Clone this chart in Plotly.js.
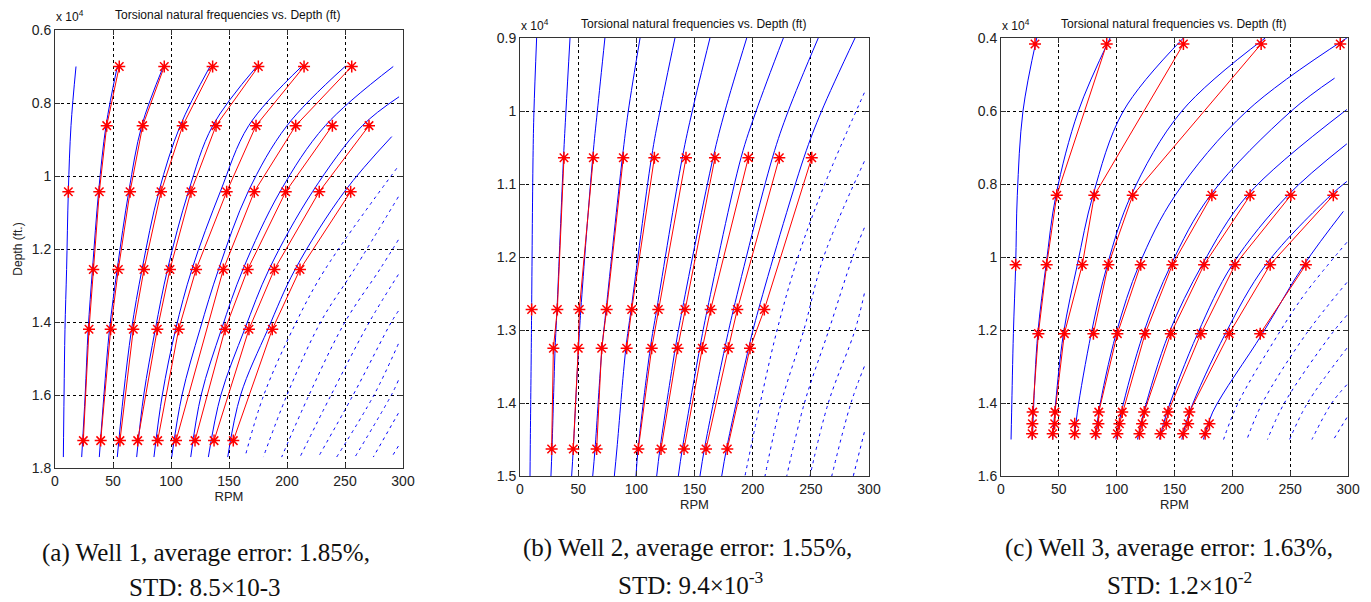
<!DOCTYPE html>
<html><head><meta charset="utf-8">
<script src="https://cdn.plot.ly/plotly-3.0.1.min.js"></script>
<style>html,body{margin:0;padding:0;background:#fff}#chart{width:1371px;height:602px}</style>
</head><body><div id="chart"></div>
<script>
// ---------- shared tick labels ----------
const rpmTicks = [0, 50, 100, 150, 200, 250, 300];
const w1DepthTicks = [0.6, 0.8, 1.0, 1.2, 1.4, 1.6, 1.8];
const w1DepthLabels = ['0.6', '0.8', '1', '1.2', '1.4', '1.6', '1.8'];
const w2DepthTicks = [0.9, 1.0, 1.1, 1.2, 1.3, 1.4, 1.5];
const w2DepthLabels = ['0.9', '1', '1.1', '1.2', '1.3', '1.4', '1.5'];
const w3DepthTicks = [0.4, 0.6, 0.8, 1.0, 1.2, 1.4, 1.6];
const w3DepthLabels = ['0.4', '0.6', '0.8', '1', '1.2', '1.4', '1.6'];

// ---------- Well 1 (depth in 10^4 ft, RPM) ----------
const w1SolidDepth = [
  [0.7, 0.862, 1.043, 1.256, 1.42, 1.6, 1.77],
  [0.7, 0.862, 1.043, 1.256, 1.42, 1.6, 1.77],
  [0.7, 0.862, 1.043, 1.256, 1.42, 1.6, 1.77],
  [0.7, 0.862, 1.043, 1.256, 1.42, 1.6, 1.77],
  [0.7, 0.862, 1.043, 1.256, 1.42, 1.6, 1.77],
  [0.7, 0.862, 1.043, 1.256, 1.42, 1.6, 1.77],
  [0.7, 0.862, 1.043, 1.256, 1.42, 1.6, 1.77],
  [0.7, 0.862, 1.043, 1.256, 1.42, 1.6, 1.77],
  [0.783, 0.862, 1.043, 1.256, 1.42, 1.6, 1.77],
  [0.892, 1.043, 1.256, 1.42, 1.6, 1.77]
];
const w1SolidRpm = [
  [18.1, 13.8, 11.5, 10.0, 8.6, 7.8, 7.2],
  [53.7, 44.0, 37.6, 32.3, 28.6, 26.0, 23.0],
  [93.4, 74.8, 63.6, 53.6, 47.0, 42.2, 38.2],
  [133.6, 108.0, 89.5, 75.0, 66.0, 59.0, 53.7],
  [173.9, 136.0, 115.0, 97.0, 86.5, 76.5, 70.4],
  [212.6, 167.0, 142.5, 118.0, 104.0, 92.5, 85.3],
  [250.0, 200.0, 166.5, 141.0, 125.0, 109.5, 100.6],
  [291.6, 233.0, 194.0, 162.0, 143.5, 126.0, 117.0],
  [296.6, 265.0, 222.0, 184.5, 163.5, 143.0, 132.2],
  [290.3, 249.5, 207.0, 183.5, 160.0, 148.9]
];
const w1DashDepth = [
  [0.979, 1.256, 1.4, 1.6, 1.77],
  [1.057, 1.256, 1.4, 1.6, 1.77],
  [1.175, 1.256, 1.4, 1.6, 1.77],
  [1.27, 1.4, 1.6, 1.77],
  [1.37, 1.4, 1.6, 1.77],
  [1.46, 1.6, 1.77],
  [1.56, 1.6, 1.77],
  [1.65, 1.77],
  [1.74, 1.77]
];
const w1DashRpm = [
  [294.6, 232.8, 208, 180, 163.8],
  [296, 258, 229, 200, 179.6],
  [296, 280, 250, 219, 195.4],
  [296, 271, 238, 211.2],
  [296, 290, 257, 227],
  [296, 275, 242.8],
  [296, 290, 258.6],
  [296, 274.4],
  [296, 290.3]
];
const w1RedDepth = [0.70, 0.862, 1.043, 1.256, 1.42, 1.725];
const w1RedRpm = [
  [55.4, 44.6, 38.2, 33.0, 29.3, 24.4],
  [94.2, 75.6, 64.7, 54.6, 48.0, 39.4],
  [135.9, 110.1, 91.4, 76.7, 67.5, 56.0],
  [175.3, 138.8, 117.2, 99.1, 88.2, 71.3],
  [214.7, 173.3, 148.0, 121.6, 106.6, 88.5],
  [255.8, 207.5, 171.8, 145.1, null, 104.3],
  [null, 239.1, 198.9, 166.1, 146.6, 120.7],
  [null, 270.7, 227.8, 189.1, 167.2, 137.1],
  [null, null, 254.9, 211.2, 187.3, 153.7]
];
const w1SingleDepth = [1.043];
const w1SingleRpm = [11.5];

// ---------- Well 2 ----------
const w2SolidDepth = [0.9, 1.0, 1.064, 1.272, 1.325, 1.463, 1.5];
const w2SolidRpm = [
  [14.3, 12.0, 11.2, 10.0, 9.7, 8.8, 8.6],
  [43.0, 39.5, 37.4, 31.8, 30.2, 27.5, 26.6],
  [73.0, 66.5, 62.5, 52.3, 50.3, 45.8, 44.4],
  [103.2, 93.1, 88.0, 74.0, 70.5, 64.5, 62.5],
  [133.2, 120.3, 113.0, 95.5, 91.0, 83.3, 81.1],
  [163.3, 148.1, 139.5, 117.5, 112.0, 101.5, 99.7],
  [194.9, 176.2, 166.0, 139.5, 133.5, 120.3, 117.5],
  [226.4, 203.0, 190.0, 161.0, 154.5, 139.5, 136.1],
  [256.4, 230.6, 217.0, 183.5, 176.0, 158.5, 154.7],
  [288.0, 259.3, 244.0, 205.0, 196.5, 177.5, 173.4]
];
const w2DashDepth = [
  [0.975, 1.1, 1.2, 1.3, 1.4, 1.5],
  [1.069, 1.2, 1.3, 1.4, 1.5],
  [1.16, 1.2, 1.3, 1.4, 1.5],
  [1.25, 1.3, 1.4, 1.5],
  [1.35, 1.4, 1.5],
  [1.44, 1.5]
];
const w2DashRpm = [
  [296, 262, 239, 221, 206.5, 193.4],
  [296, 261, 244, 224.5, 210.6],
  [296, 286, 265.5, 244.5, 229.3],
  [296, 288, 265, 249.3],
  [296, 284.5, 268],
  [296, 286.5]
];
const w2RedDepth = [1.064, 1.272, 1.325, 1.463];
const w2RedRpm = [
  [37.8, 32.1, 28.7, 27.2],
  [63.0, 51.0, 50.1, 45.8],
  [88.8, 74.5, 70.2, 65.9],
  [115.5, 96.0, 91.7, null],
  [142.7, 118.9, 113.2, 101.7],
  [167.6, 141.8, 135.5, 121.2],
  [196.3, 163.9, 156.7, 141.0],
  [222.9, 186.8, 179.1, 159.9],
  [250.8, 210.0, 197.7, 178.2]
];
const w2SingleDepth = [1.272];
const w2SingleRpm = [10.0];

// ---------- Well 3 ----------
const w3SolidDepth = [
  [0.4, 0.6, 0.831, 1.021, 1.21, 1.425, 1.5],
  [0.4, 0.6, 0.831, 1.021, 1.21, 1.425, 1.5],
  [0.4, 0.6, 0.831, 1.021, 1.21, 1.425, 1.5],
  [0.4, 0.6, 0.831, 1.021, 1.21, 1.425, 1.5],
  [0.4, 0.6, 0.831, 1.021, 1.21, 1.425, 1.5],
  [0.51, 0.6, 0.831, 1.021, 1.21, 1.425, 1.5],
  [0.596, 0.831, 1.021, 1.21, 1.425, 1.5],
  [0.69, 0.831, 1.021, 1.21, 1.425, 1.5],
  [0.793, 0.831, 1.021, 1.21, 1.425, 1.5],
  [0.875, 1.021, 1.21, 1.425, 1.5]
];
const w3SolidRpm = [
  [30.9, 19.0, 14.1, 12.7, 10.7, 9.2, 8.7],
  [94.3, 66.9, 47.5, 39.0, 31.8, 28.0, 27.2],
  [157.7, 105.8, 79.5, 66.0, 54.0, 46.5, 44.7],
  [228.4, 156.4, 112.5, 92.0, 78.0, 66.0, 63.4],
  [299.0, 212.6, 150.6, 119.5, 99.5, 84.5, 81.9],
  [288.4, 251.0, 181.0, 147.0, 123.0, 104.0, 99.3],
  [299.0, 213.0, 174.0, 145.0, 123.5, 118.0],
  [299.0, 248.0, 200.0, 170.0, 143.5, 137.0],
  [299.0, 285.0, 229.0, 194.0, 163.0, 156.3],
  [296.0, 262.0, 226.0, 183.0, 175.0]
];
const w3DashDepth = [
  [0.96, 1.1, 1.21, 1.4, 1.5],
  [1.07, 1.21, 1.4, 1.5],
  [1.16, 1.21, 1.4, 1.5],
  [1.25, 1.4, 1.5],
  [1.35, 1.4, 1.5],
  [1.44, 1.5]
];
const w3DashRpm = [
  [299, 263, 240, 205, 192.4],
  [299, 264, 226, 212.6],
  [299, 286, 245, 230.4],
  [299, 265, 249.5],
  [299, 286, 268.8],
  [299, 287.5]
];
const w3RedDepth = [0.4165, 0.831, 1.021, 1.21, 1.425, 1.457, 1.484];
const w3RedRpm = [
  [91.4, 48.2, 39.5, 32.3, 27.4, 27.1, 26.9],
  [157.7, 80.7, 70.3, 54.8, 46.7, 46.4, 44.7],
  [224.9, 113.9, 92.8, 79.9, null, null, null],
  [null, null, null, null, null, 63.7, 63.7],
  [null, null, 120.8, 100.6, 84.5, 84.2, 81.8],
  [null, 182.3, 148.2, 124.6, 104.8, 102.4, 100.6],
  [null, 215.4, 175.6, 146.8, 123.8, 122.0, 119.7],
  [null, 250.6, 202.4, 172.8, 144.4, 142.8, 137.9],
  [null, 287.3, 232.7, 197.3, 162.8, 161.8, 157.5],
  [null, null, 263.6, 224.1, null, null, null],
  [null, null, null, null, null, 180.2, 176.5]
];
const w3SingleDepth = [0.4165, 1.021, 0.4165];
const w3SingleRpm = [29.4, 12.7, 293.3];

// ---------- captions / titles ----------
const plotTitle = 'Torsional natural frequencies vs. Depth (ft)';
const captions = [
  ['(a) Well 1, average error: 1.85%,', 'STD: 8.5×10-3'],
  ['(b) Well 2, average error: 1.55%,', 'STD: 9.4×10<sup>-3</sup>'],
  ['(c) Well 3, average error: 1.63%,', 'STD: 1.2×10<sup>-2</sup>']
];

// ---------- build traces ----------
const traces = [];
function solid(xa, ya, depths, rpms, shared) {
  rpms.forEach((r, i) => traces.push({
    type: 'scatter', mode: 'lines', xaxis: xa, yaxis: ya,
    x: r, y: shared ? depths : depths[i],
    line: {color: '#0000ff', width: 1, shape: 'spline', smoothing: 1},
    hoverinfo: 'skip'
  }));
}
function dashed(xa, ya, depths, rpms) {
  rpms.forEach((r, i) => traces.push({
    type: 'scatter', mode: 'lines', xaxis: xa, yaxis: ya,
    x: r, y: depths[i],
    line: {color: '#0000ff', width: 1, dash: '3px,4px', shape: 'spline', smoothing: 1},
    hoverinfo: 'skip'
  }));
}
const star = {symbol: 'asterisk-open', size: 10, color: '#ff0000', line: {color: '#ff0000', width: 1.5}};
function red(xa, ya, depths, rpms) {
  rpms.forEach(r => traces.push({
    type: 'scatter', mode: 'lines+markers', xaxis: xa, yaxis: ya,
    x: r, y: depths, connectgaps: true,
    line: {color: '#ff0000', width: 1}, marker: star
  }));
}
function single(xa, ya, depths, rpms) {
  traces.push({type: 'scatter', mode: 'markers', xaxis: xa, yaxis: ya, x: rpms, y: depths, marker: star});
}

solid('x', 'y', w1SolidDepth, w1SolidRpm, false);
dashed('x', 'y', w1DashDepth, w1DashRpm);
red('x', 'y', w1RedDepth, w1RedRpm);
single('x', 'y', w1SingleDepth, w1SingleRpm);

solid('x2', 'y2', w2SolidDepth, w2SolidRpm, true);
dashed('x2', 'y2', w2DashDepth, w2DashRpm);
red('x2', 'y2', w2RedDepth, w2RedRpm);
single('x2', 'y2', w2SingleDepth, w2SingleRpm);

solid('x3', 'y3', w3SolidDepth, w3SolidRpm, false);
dashed('x3', 'y3', w3DashDepth, w3DashRpm);
red('x3', 'y3', w3RedDepth, w3RedRpm);
single('x3', 'y3', w3SingleDepth, w3SingleRpm);

// ---------- layout ----------
const W = 1371, H = 602;
const fx = v => v / W, fy = v => 1 - v / H;
const sans = 'Liberation Sans, Arial, sans-serif';
const serif = 'Liberation Serif, Times New Roman, serif';
const tickFont = {family: sans, size: 14, color: '#222'};
function xAxis(l, r, anchor) {
  return {
    domain: [fx(l), fx(r)], anchor: anchor, range: [0, 300],
    tickmode: 'array', tickvals: rpmTicks, ticktext: rpmTicks.map(String),
    ticks: 'inside', ticklen: 5, tickcolor: '#333',
    showline: true, mirror: 'ticks', linecolor: '#333', linewidth: 1,
    showgrid: true, gridcolor: '#000', griddash: '3px,3px', gridwidth: 1,
    zeroline: false, tickfont: tickFont, fixedrange: true,
    title: {text: 'RPM', font: {family: sans, size: 13, color: '#222'}, standoff: 2}
  };
}
function yAxis(t, b, anchor, rng, vals, labels, title) {
  const ax = {
    domain: [fy(b), fy(t)], anchor: anchor, range: rng,
    tickmode: 'array', tickvals: vals, ticktext: labels,
    ticks: 'inside', ticklen: 5, tickcolor: '#333',
    showline: true, mirror: 'ticks', linecolor: '#333', linewidth: 1,
    showgrid: true, gridcolor: '#000', griddash: '3px,3px', gridwidth: 1,
    zeroline: false, tickfont: tickFont, fixedrange: true
  };
  if (title) ax.title = {text: title, font: {family: sans, size: 12, color: '#222'}, standoff: 6};
  return ax;
}

const annotations = [];
function txt(x, y, text, size, family, xanchor) {
  annotations.push({xref: 'paper', yref: 'paper', x: fx(x), y: fy(y), text: text, showarrow: false,
    xanchor: xanchor || 'center', yanchor: 'middle',
    font: {family: family, size: size, color: '#111'}});
}
txt(227, 15, plotTitle, 12, sans);
txt(693, 24, plotTitle, 12, sans);
txt(1173, 24, plotTitle, 12, sans);
txt(54, 16, 'x 10<sup>4</sup>', 12, sans, 'left');
txt(519, 25, 'x 10<sup>4</sup>', 12, sans, 'left');
txt(1000, 25, 'x 10<sup>4</sup>', 12, sans, 'left');
txt(206, 553, captions[0][0], 25, serif);
txt(205, 587, captions[0][1], 25, serif);
txt(687, 548, captions[1][0], 25, serif);
txt(691, 583, captions[1][1], 25, serif);
txt(1169, 548, captions[2][0], 25, serif);
txt(1179, 583, captions[2][1], 25, serif);

const layout = {
  width: W, height: H, margin: {l: 0, r: 0, t: 0, b: 0},
  paper_bgcolor: '#fff', plot_bgcolor: '#fff', showlegend: false,
  xaxis: xAxis(55, 403, 'y'),
  yaxis: yAxis(30, 468, 'x', [1.8, 0.6], w1DepthTicks, w1DepthLabels, 'Depth (ft.)'),
  xaxis2: xAxis(520, 869, 'y2'),
  yaxis2: yAxis(38, 476, 'x2', [1.5, 0.9], w2DepthTicks, w2DepthLabels, null),
  xaxis3: xAxis(1001, 1348, 'y3'),
  yaxis3: yAxis(38, 476, 'x3', [1.6, 0.4], w3DepthTicks, w3DepthLabels, null),
  annotations: annotations
};
Plotly.newPlot('chart', traces, layout, {displayModeBar: false, staticPlot: true});
</script></body></html>
